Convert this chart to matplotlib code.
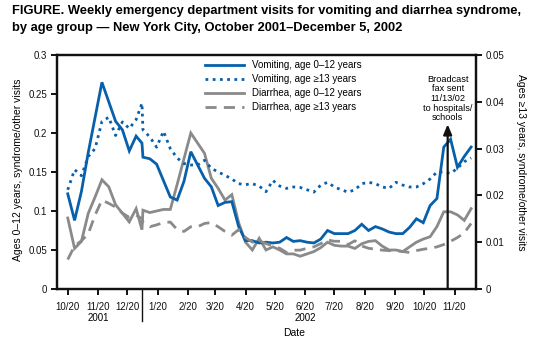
import numpy as np
import pandas as pd
import matplotlib
matplotlib.use("Agg")
import matplotlib.pyplot as plt
import matplotlib.transforms as mtransforms

plt.rcParams['font.family'] = ['Liberation Sans', 'DejaVu Sans']

# week dates: the 2001 run ends with a point on Jan 4, the 2002 run starts Jan 5
dates_2001 = list(pd.date_range('2001-10-20', periods=11, freq='7D')) + [pd.Timestamp('2002-01-04')]
dates_2002 = list(pd.date_range('2002-01-05', periods=49, freq='7D'))
dates = dates_2001 + dates_2002

# ages 0-12 (left axis)
vomit_young = [0.122, 0.088, 0.125, 0.175, 0.220, 0.265, 0.240, 0.215, 0.204, 0.177, 0.196, 0.187,
               0.169, 0.167, 0.160, 0.139, 0.118, 0.114, 0.138, 0.176, 0.159, 0.142, 0.131, 0.107,
               0.111, 0.112, 0.080, 0.062, 0.062, 0.059, 0.060, 0.059, 0.060, 0.066, 0.061, 0.062,
               0.060, 0.059, 0.064, 0.075, 0.071, 0.071, 0.071, 0.075, 0.083, 0.075, 0.080, 0.077,
               0.073, 0.071, 0.071, 0.079, 0.090, 0.085, 0.107, 0.116, 0.182, 0.192, 0.156, 0.170,
               0.182]
diarr_young = [0.091, 0.052, 0.061, 0.097, 0.118, 0.140, 0.131, 0.108, 0.097, 0.086, 0.103, 0.076,
               0.101, 0.098, 0.100, 0.102, 0.102, 0.134, 0.167, 0.200, 0.187, 0.174, 0.142, 0.129,
               0.114, 0.121, 0.085, 0.060, 0.050, 0.065, 0.050, 0.054, 0.050, 0.045, 0.045, 0.042,
               0.045, 0.048, 0.053, 0.060, 0.056, 0.055, 0.055, 0.052, 0.058, 0.061, 0.062, 0.055,
               0.050, 0.050, 0.048, 0.054, 0.060, 0.064, 0.067, 0.080, 0.099, 0.099, 0.095, 0.088,
               0.103]

# ages >=13 (right axis)
vomit_adult = [0.0212, 0.0255, 0.0242, 0.0283, 0.0300, 0.0358, 0.0367, 0.0328, 0.0357, 0.0343, 0.0362,
               0.0397, 0.0340, 0.0325, 0.0303, 0.0337, 0.0300, 0.0280, 0.0268, 0.0265, 0.0265, 0.0275,
               0.0258, 0.0250, 0.0243, 0.0235, 0.0225, 0.0223, 0.0225, 0.0220, 0.0208, 0.0232, 0.0220,
               0.0215, 0.0218, 0.0217, 0.0212, 0.0207, 0.0222, 0.0228, 0.0218, 0.0212, 0.0207, 0.0212,
               0.0225, 0.0228, 0.0225, 0.0218, 0.0215, 0.0228, 0.0222, 0.0218, 0.0218, 0.0225, 0.0235,
               0.0250, 0.0250, 0.0247, 0.0258, 0.0272, 0.0280]
diarr_adult = [0.0063, 0.0092, 0.0103, 0.0118, 0.0158, 0.0190, 0.0183, 0.0175, 0.0162, 0.0153, 0.0158,
               0.0150, 0.0143, 0.0133, 0.0137, 0.0142, 0.0143, 0.0127, 0.0123, 0.0133, 0.0133, 0.0140,
               0.0142, 0.0133, 0.0123, 0.0115, 0.0127, 0.0110, 0.0100, 0.0103, 0.0097, 0.0092, 0.0087,
               0.0078, 0.0083, 0.0083, 0.0087, 0.0090, 0.0097, 0.0105, 0.0102, 0.0102, 0.0095, 0.0103,
               0.0092, 0.0087, 0.0085, 0.0083, 0.0082, 0.0082, 0.0080, 0.0078, 0.0082, 0.0085, 0.0087,
               0.0090, 0.0095, 0.0102, 0.0110, 0.0120, 0.0140]

tick_dates = pd.date_range('2001-10-01', '2002-11-01', freq='MS') + pd.Timedelta(days=19)
tick_labels = [f"{d.month}/20" for d in tick_dates]
fax_date = pd.Timestamp('2002-11-13')

blue = '#0760ac'
gray = '#8a8a8a'

fig = plt.figure(figsize=(5.38, 3.49), dpi=100)
ax = fig.add_axes([57/538, 1 - 289/349, 419/538, 234/349])
ax2 = ax.twinx()

l_dy, = ax.plot(dates, diarr_young, color=gray, lw=2.0, solid_joinstyle='miter')
l_vy, = ax.plot(dates, vomit_young, color=blue, lw=2.0, solid_joinstyle='miter')
l_va, = ax2.plot(dates, vomit_adult, color=blue, lw=2.0, linestyle=(0, (1, 1.6)))
l_da, = ax2.plot(dates, diarr_adult, color=gray, lw=2.0, linestyle=(0, (4, 2.6)))

ax.set_xlim(pd.Timestamp('2001-10-09'), pd.Timestamp('2002-12-12'))
ax.set_ylim(0, 0.3)
ax2.set_ylim(0, 0.05)

ax.set_yticks([0, 0.05, 0.1, 0.15, 0.2, 0.25, 0.3])
ax.set_yticklabels(['0', '0.05', '0.1', '0.15', '0.2', '0.25', '0.3'])
ax2.set_yticks([0, 0.01, 0.02, 0.03, 0.04, 0.05])
ax2.set_yticklabels(['0', '0.01', '0.02', '0.03', '0.04', '0.05'])
ax.set_xticks(tick_dates)
ax.set_xticklabels(tick_labels)

for a in (ax, ax2):
    for s in a.spines.values():
        s.set_linewidth(1.6)
        s.set_color('#111111')
    a.tick_params(direction='out', length=4, width=1.4, labelsize=7, colors='#111111', pad=3)
ax.tick_params(axis='x', pad=5)

# year labels and separator below the axis
trans = mtransforms.blended_transform_factory(ax.transData, ax.transAxes)
ax.plot([pd.Timestamp('2002-01-04')] * 2, [0, -0.135], transform=trans, color='#111111',
        lw=1.0, clip_on=False)
ax.text(pd.Timestamp('2001-11-20'), -0.125, '2001', transform=trans, ha='center', va='center', fontsize=7)
ax.text(pd.Timestamp('2002-06-20'), -0.125, '2002', transform=trans, ha='center', va='center', fontsize=7)
ax.text(0.567, -0.19, 'Date', transform=ax.transAxes, ha='center', va='center', fontsize=7.5)

# broadcast fax annotation
ax2.annotate('', xy=(fax_date, 0.0352), xytext=(fax_date, 0), xycoords='data',
             arrowprops=dict(arrowstyle='-|>,head_length=0.6,head_width=0.25', color='#111111', lw=1.6,
                             shrinkA=0, shrinkB=0))
ax2.text(fax_date, 0.0458, 'Broadcast\nfax sent\n11/13/02\nto hospitals/\nschools', ha='center',
         va='top', fontsize=6.6, linespacing=1.1)

leg = ax2.legend([l_vy, l_va, l_dy, l_da],
                 ['Vomiting, age 0\u201312 years', 'Vomiting, age \u226513 years',
                  'Diarrhea, age 0\u201312 years', 'Diarrhea, age \u226513 years'],
                 loc='upper left', bbox_to_anchor=(0.345, 0.995), frameon=False, fontsize=7,
                 handlelength=4.0, handletextpad=0.75, labelspacing=0.42, borderaxespad=0)

fig.text(18/538, 1 - 170/349, 'Ages 0\u201312 years, syndrome/other visits', rotation=90,
         ha='center', va='center', fontsize=7.5)
fig.text(521/538, 1 - 162/349, 'Ages \u226513 years, syndrome/other visits', rotation=-90,
         ha='center', va='center', fontsize=7.5)

fig.text(12/538, 1 - 11/349, 'FIGURE. Weekly emergency department visits for vomiting and diarrhea syndrome,',
         ha='left', va='center', fontsize=9.3, fontweight='bold')
fig.text(12/538, 1 - 28/349, 'by age group \u2014 New York City, October 2001\u2013December 5, 2002',
         ha='left', va='center', fontsize=9.3, fontweight='bold')

fig.savefig('out.png', dpi=100)
